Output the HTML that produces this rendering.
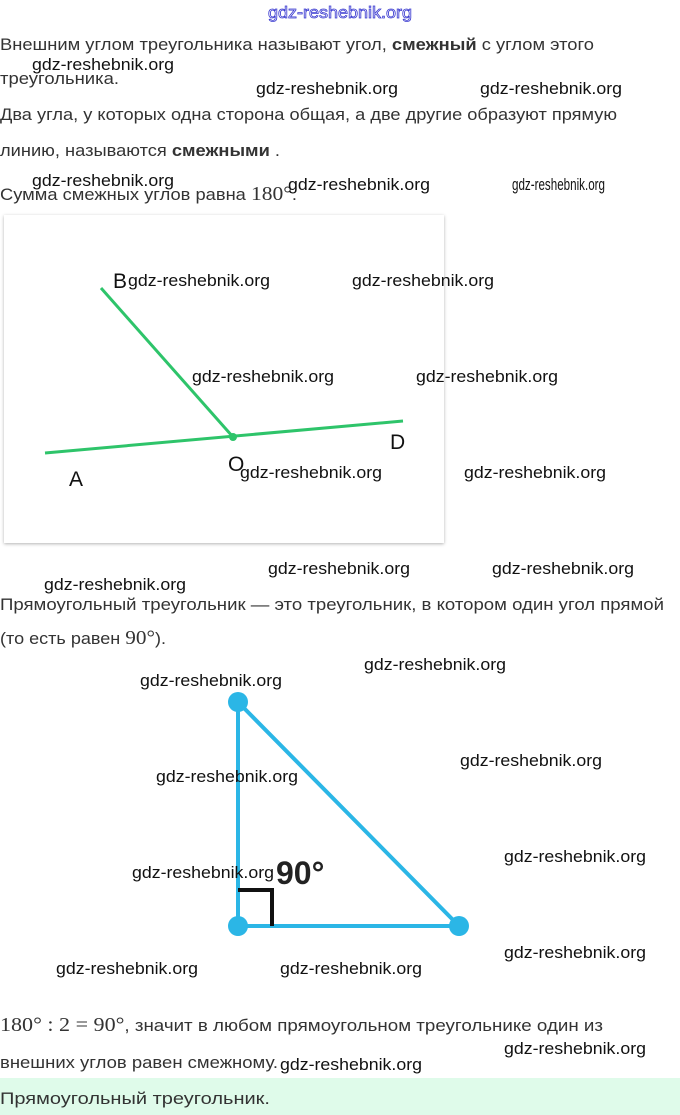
<!DOCTYPE html>
<html><head><meta charset="utf-8"><style>
html,body{margin:0;padding:0;background:#fff;}
svg{display:block}
.t{font-family:"Liberation Sans",sans-serif;font-size:17px;fill:#333}
.w{font-family:"Liberation Sans",sans-serif;font-size:17px;fill:#111}
</style></head><body>
<svg width="680" height="1115" viewBox="0 0 680 1115" xmlns="http://www.w3.org/2000/svg">
<defs><filter id="sh" x="-5%" y="-5%" width="110%" height="110%"><feDropShadow dx="0" dy="1" stdDeviation="1.5" flood-color="#000" flood-opacity="0.3"/></filter></defs>
<text x="268" y="18" font-family="Liberation Sans,sans-serif" font-size="17" fill="#fff" stroke="#3a3ad0" stroke-width="0.8" textLength="144" lengthAdjust="spacingAndGlyphs">gdz-reshebnik.org</text>

<text class="t" x="0" y="50" textLength="594" lengthAdjust="spacingAndGlyphs">Внешним углом треугольника называют угол, <tspan font-weight="bold">смежный</tspan> с углом этого</text>
<text class="t" x="0" y="84" textLength="119" lengthAdjust="spacingAndGlyphs">треугольника.</text>
<text class="t" x="0" y="120" textLength="617" lengthAdjust="spacingAndGlyphs">Два угла, у которых одна сторона общая, а две другие образуют прямую</text>
<text class="t" x="0" y="156" textLength="280" lengthAdjust="spacingAndGlyphs">линию, называются <tspan font-weight="bold">смежными</tspan> .</text>
<text class="t" x="0" y="200" textLength="297" lengthAdjust="spacingAndGlyphs">Сумма смежных углов равна <tspan font-family="Liberation Serif,serif" font-size="20">180°</tspan>.</text>

<rect x="4" y="215" width="440" height="328" fill="#fff" filter="url(#sh)"/>
<line x1="101" y1="288" x2="233" y2="437" stroke="#2ec46a" stroke-width="3"/>
<line x1="45" y1="453" x2="403" y2="421" stroke="#2ec46a" stroke-width="3"/>
<circle cx="233" cy="437" r="4" fill="#2ec46a"/>
<g font-family="Liberation Sans,sans-serif" font-size="21" fill="#111">
<text x="113" y="288">B</text><text x="390" y="449">D</text><text x="69" y="486">A</text><text x="228" y="471">O</text>
</g>

<text class="t" x="0" y="610" textLength="664" lengthAdjust="spacingAndGlyphs">Прямоугольный треугольник — это треугольник, в котором один угол прямой</text>
<text class="t" x="0" y="644" textLength="166" lengthAdjust="spacingAndGlyphs">(то есть равен <tspan font-family="Liberation Serif,serif" font-size="20">90°</tspan>).</text>

<path d="M238 702 L238 926 L459 926 Z" fill="none" stroke="#2bb6e6" stroke-width="4" stroke-linejoin="round"/>
<path d="M238 890 L272 890 L272 926" fill="none" stroke="#111" stroke-width="4"/>
<circle cx="238" cy="702" r="10" fill="#2bb6e6"/>
<circle cx="238" cy="926" r="10" fill="#2bb6e6"/>
<circle cx="459" cy="926" r="10" fill="#2bb6e6"/>
<text x="276" y="884" font-family="Liberation Sans,sans-serif" font-size="32" font-weight="bold" fill="#222">90°</text>

<text class="t" x="0" y="1031" textLength="603" lengthAdjust="spacingAndGlyphs"><tspan font-family="Liberation Serif,serif" font-size="20">180° : 2 = 90°</tspan>, значит в любом прямоугольном треугольнике один из</text>
<text class="t" x="0" y="1068" textLength="278" lengthAdjust="spacingAndGlyphs">внешних углов равен смежному.</text>
<rect x="0" y="1078" width="680" height="37" fill="#dffbea"/>
<text class="t" x="0" y="1104" textLength="270" lengthAdjust="spacingAndGlyphs">Прямоугольный треугольник.</text>

<g>
<text class="w" x="32" y="70" textLength="142" lengthAdjust="spacingAndGlyphs">gdz-reshebnik.org</text>
<text class="w" x="256" y="94" textLength="142" lengthAdjust="spacingAndGlyphs">gdz-reshebnik.org</text>
<text class="w" x="480" y="94" textLength="142" lengthAdjust="spacingAndGlyphs">gdz-reshebnik.org</text>
<text class="w" x="32" y="186" textLength="142" lengthAdjust="spacingAndGlyphs">gdz-reshebnik.org</text>
<text class="w" x="288" y="190" textLength="142" lengthAdjust="spacingAndGlyphs">gdz-reshebnik.org</text>
<text class="w" x="512" y="190" font-size="12" textLength="93" lengthAdjust="spacingAndGlyphs">gdz-reshebnik.org</text>
<text class="w" x="128" y="286" textLength="142" lengthAdjust="spacingAndGlyphs">gdz-reshebnik.org</text>
<text class="w" x="352" y="286" textLength="142" lengthAdjust="spacingAndGlyphs">gdz-reshebnik.org</text>
<text class="w" x="192" y="382" textLength="142" lengthAdjust="spacingAndGlyphs">gdz-reshebnik.org</text>
<text class="w" x="416" y="382" textLength="142" lengthAdjust="spacingAndGlyphs">gdz-reshebnik.org</text>
<text class="w" x="240" y="478" textLength="142" lengthAdjust="spacingAndGlyphs">gdz-reshebnik.org</text>
<text class="w" x="464" y="478" textLength="142" lengthAdjust="spacingAndGlyphs">gdz-reshebnik.org</text>
<text class="w" x="44" y="590" textLength="142" lengthAdjust="spacingAndGlyphs">gdz-reshebnik.org</text>
<text class="w" x="268" y="574" textLength="142" lengthAdjust="spacingAndGlyphs">gdz-reshebnik.org</text>
<text class="w" x="492" y="574" textLength="142" lengthAdjust="spacingAndGlyphs">gdz-reshebnik.org</text>
<text class="w" x="364" y="670" textLength="142" lengthAdjust="spacingAndGlyphs">gdz-reshebnik.org</text>
<text class="w" x="140" y="686" textLength="142" lengthAdjust="spacingAndGlyphs">gdz-reshebnik.org</text>
<text class="w" x="460" y="766" textLength="142" lengthAdjust="spacingAndGlyphs">gdz-reshebnik.org</text>
<text class="w" x="156" y="782" textLength="142" lengthAdjust="spacingAndGlyphs">gdz-reshebnik.org</text>
<text class="w" x="504" y="862" textLength="142" lengthAdjust="spacingAndGlyphs">gdz-reshebnik.org</text>
<text class="w" x="132" y="878" textLength="142" lengthAdjust="spacingAndGlyphs">gdz-reshebnik.org</text>
<text class="w" x="504" y="958" textLength="142" lengthAdjust="spacingAndGlyphs">gdz-reshebnik.org</text>
<text class="w" x="56" y="974" textLength="142" lengthAdjust="spacingAndGlyphs">gdz-reshebnik.org</text>
<text class="w" x="280" y="974" textLength="142" lengthAdjust="spacingAndGlyphs">gdz-reshebnik.org</text>
<text class="w" x="504" y="1054" textLength="142" lengthAdjust="spacingAndGlyphs">gdz-reshebnik.org</text>
<text class="w" x="280" y="1070" textLength="142" lengthAdjust="spacingAndGlyphs">gdz-reshebnik.org</text>
</g>
</svg>
</body></html>
